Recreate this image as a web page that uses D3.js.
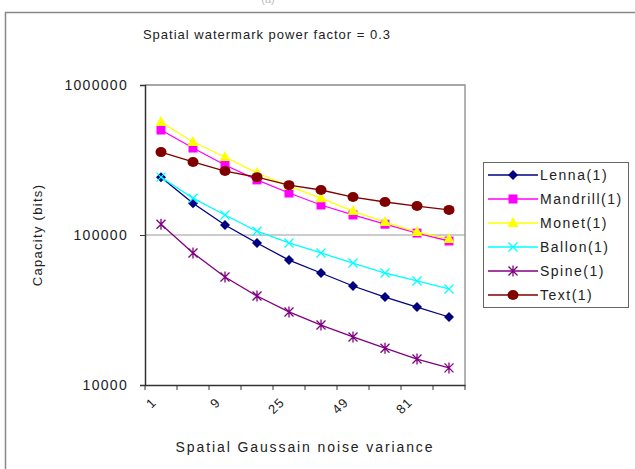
<!DOCTYPE html>
<html><head><meta charset="utf-8">
<script src="https://cdn.jsdelivr.net/npm/d3@7"></script>
<style>
body{margin:0;background:#fff;}
text{font-family:"Liberation Sans",Arial,sans-serif;fill:#222;}
</style></head>
<body>
<svg id="c" width="635" height="469"></svg>
<script>
const categories = ["1","4","9","16","25","36","49","64","81","100"];
const tickLabels = ["1","9","25","49","81"];
const yTicks = [10000,100000,1000000];
const seriesNames = ["Lenna(1)","Mandrill(1)","Monet(1)","Ballon(1)","Spine(1)","Text(1)"];
const lenna    = [243000,163000,116600,88500,68000,55800,45700,38600,33100,28400];
const mandrill = [501000,380000,293000,233000,190500,158500,136000,118000,103000,91200];
const monet    = [567000,417000,331000,259000,212000,176000,144500,122000,104700,94000];
const ballon   = [243000,176000,136000,106000,88500,75900,65000,55800,49400,43700];
const spine    = [118000,75900,52500,39200,30700,25100,20900,17600,14900,13000];
const textS    = [357000,307000,267000,243000,215000,199500,179000,166000,156000,147000];
const colors = ["#000080","#ff00ff","#ffff00","#00ffff","#800080","#800000"];
const markers = ["diamond","square","triangle","x","star","circle"];
const data = [lenna,mandrill,monet,ballon,spine,textS];

const svg = d3.select("#c");
const L=145,R=465,T=85,B=385;

// outer frame
svg.append("rect").attr("x",5.5).attr("y",12.5).attr("width",640).attr("height",470)
  .attr("fill","none").attr("stroke","#888").attr("stroke-width",1.5);
svg.append("text").attr("x",268).attr("y",3).attr("text-anchor","middle")
  .style("font-size","11px").style("fill","#bbb").text("(a)");

const x = d3.scaleBand().domain(categories).range([L,R]);
const y = d3.scaleLog().domain([10000,1000000]).range([B,T]);

// gridlines
svg.append("g").selectAll("line").data(yTicks.filter(v=>v>10000)).join("line")
  .attr("x1",L).attr("x2",R).attr("y1",d=>y(d)).attr("y2",d=>y(d))
  .attr("stroke","#999").attr("stroke-width",1.2);
// plot border top/right
svg.append("path").attr("d",`M${L},${T}H${R}V${B}`).attr("fill","none")
  .attr("stroke","#999").attr("stroke-width",1.5);

// y axis
const ya = svg.append("g").attr("transform",`translate(${L},0)`)
  .call(d3.axisLeft(y).tickValues(yTicks).tickFormat(d3.format("d")).tickSize(5).tickPadding(12));
ya.select(".domain").attr("stroke","#333").attr("stroke-width",1.5);
ya.selectAll("line").attr("stroke","#333");
ya.selectAll("text").style("font-size","14px").style("letter-spacing","1.3px").style("fill","#222");

// x axis
const xa = svg.append("g").attr("transform",`translate(0,${B})`)
  .call(d3.axisBottom(x).tickSize(0).tickFormat(""));
xa.select(".domain").attr("stroke","#333").attr("stroke-width",1.5);
const edges = categories.map(c=>x(c)).concat([R]);
svg.append("g").selectAll("line").data(edges).join("line")
  .attr("x1",d=>d).attr("x2",d=>d).attr("y1",B).attr("y2",B+5).attr("stroke","#333");
svg.append("g").selectAll("text").data(tickLabels).join("text")
  .attr("transform",d=>`translate(${x(d)+x.bandwidth()/2-7},${B+15}) rotate(-45)`)
  .attr("text-anchor","end").attr("dy","0.35em")
  .style("font-size","13px").style("letter-spacing","1px").text(d=>d);

// titles
svg.append("text").attr("x",267).attr("y",39).attr("text-anchor","middle")
  .style("font-size","13px").style("letter-spacing","1px").text("Spatial watermark power factor = 0.3");
svg.append("text").attr("transform",`translate(42,${(T+B)/2}) rotate(-90)`).attr("text-anchor","middle")
  .style("font-size","13px").style("letter-spacing","1.3px").text("Capacity (bits)");
svg.append("text").attr("x",(L+R)/2).attr("y",452).attr("text-anchor","middle")
  .style("font-size","14px").style("letter-spacing","1.9px").text("Spatial Gaussain noise variance");

function drawMarker(g,type,color){
  if(type==="diamond") g.append("path").attr("d","M0,-5L5,0L0,5L-5,0Z").attr("fill",color);
  else if(type==="square") g.append("rect").attr("x",-4.5).attr("y",-4.5).attr("width",9).attr("height",9).attr("fill",color);
  else if(type==="triangle") g.append("path").attr("d","M0,-6L5.5,4L-5.5,4Z").attr("fill",color);
  else if(type==="circle") g.append("ellipse").attr("rx",5.5).attr("ry",5).attr("fill",color);
  else if(type==="x") g.append("path").attr("d","M-4.5,-4.5L4.5,4.5M-4.5,4.5L4.5,-4.5").attr("stroke",color).attr("stroke-width",1.3);
  else if(type==="star") g.append("path").attr("d","M-4.5,-4.5L4.5,4.5M-4.5,4.5L4.5,-4.5M0,-5.5V5.5").attr("stroke",color).attr("stroke-width",1.3);
}

const cx = c=>x(c)+x.bandwidth()/2;
const line = d3.line().x((d,i)=>cx(categories[i])).y(d=>y(d));
data.forEach((s,k)=>{
  const g = svg.append("g");
  g.append("path").datum(s).attr("d",line).attr("fill","none").attr("stroke",colors[k]).attr("stroke-width",1.3);
  s.forEach((v,i)=>{
    const m = g.append("g").attr("transform",`translate(${cx(categories[i])},${y(v)})`);
    drawMarker(m,markers[k],colors[k]);
  });
});

// legend
const lg = svg.append("g");
lg.append("rect").attr("x",483.5).attr("y",162.5).attr("width",145).attr("height",145)
  .attr("fill","#fff").attr("stroke","#666");
seriesNames.forEach((n,k)=>{
  const yy = 175+k*24;
  lg.append("line").attr("x1",488).attr("x2",538).attr("y1",yy).attr("y2",yy).attr("stroke",colors[k]).attr("stroke-width",1.5);
  drawMarker(lg.append("g").attr("transform",`translate(513,${yy})`),markers[k],colors[k]);
  lg.append("text").attr("x",540).attr("y",yy).attr("dy","0.35em").style("font-size","14px")
    .style("letter-spacing","1.5px").text(n);
});
</script>
</body></html>
